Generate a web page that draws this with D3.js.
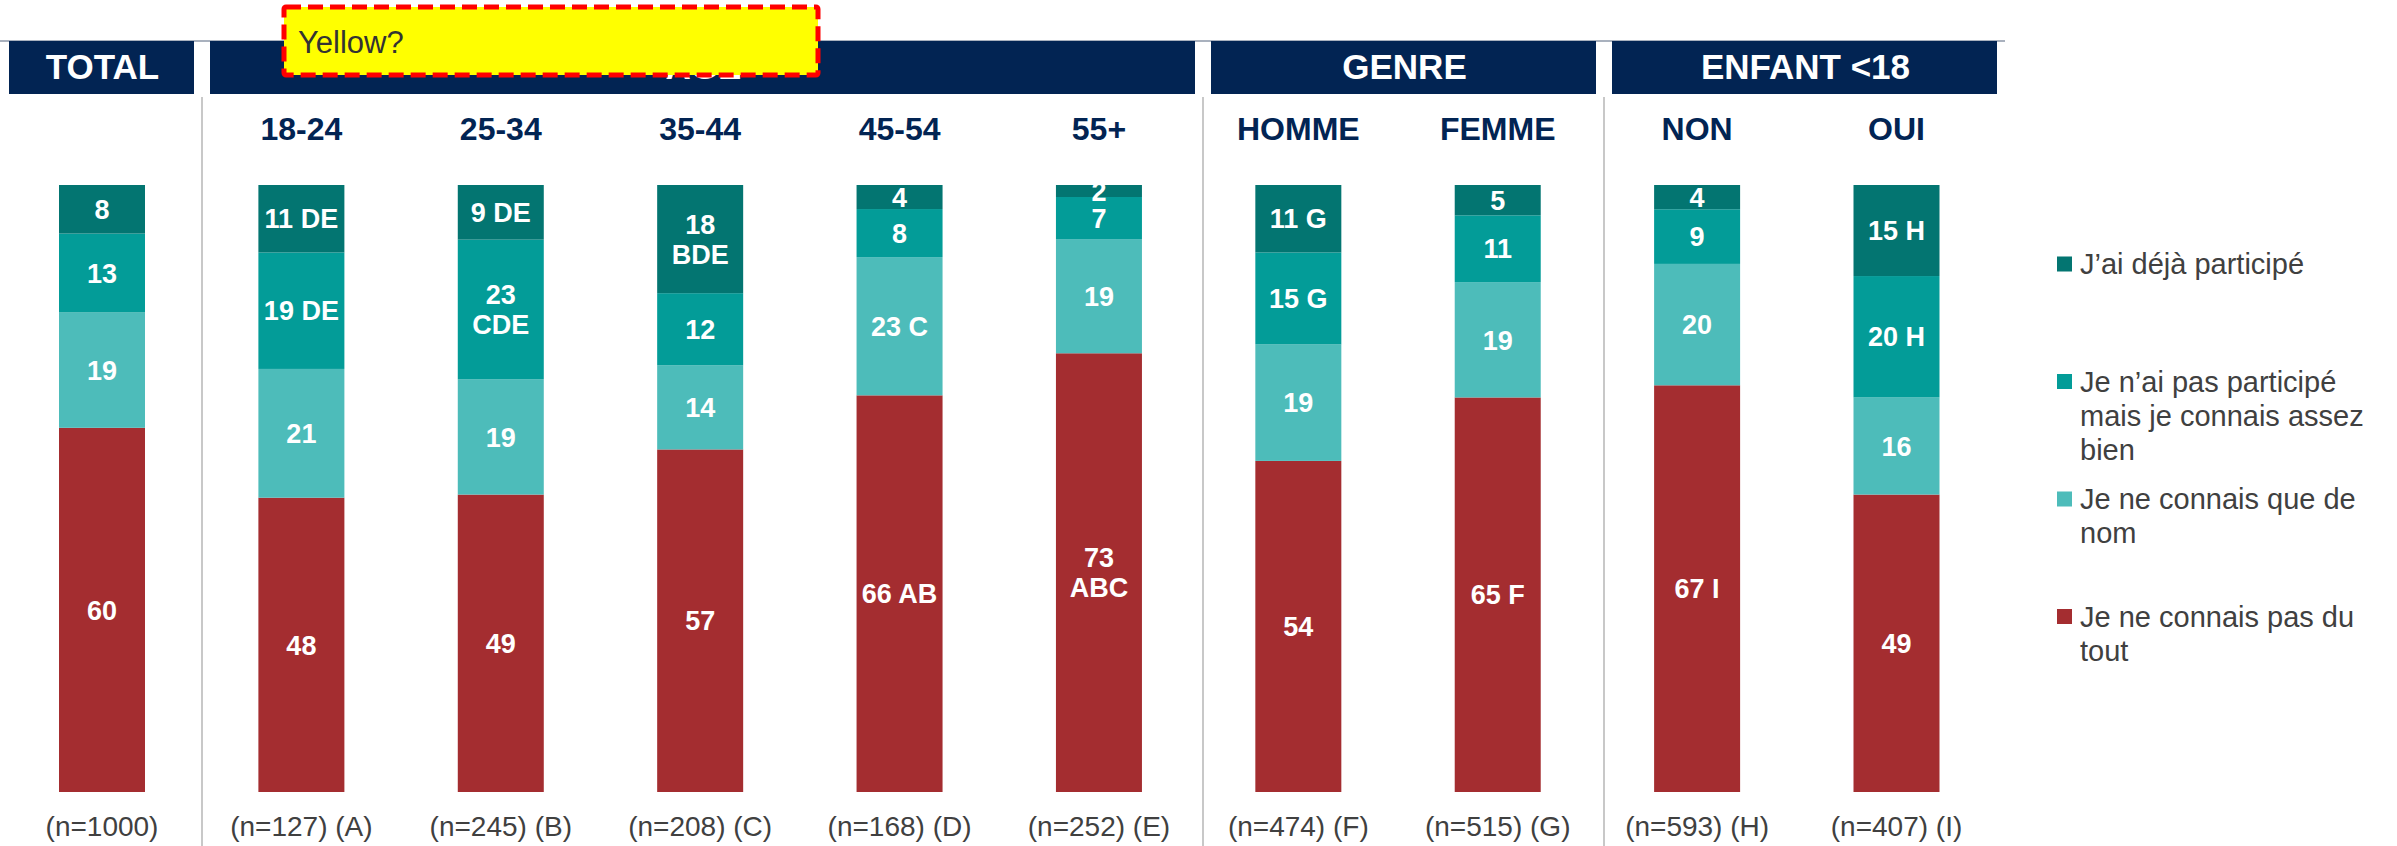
<!DOCTYPE html>
<html>
<head>
<meta charset="utf-8">
<script src="https://cdn.jsdelivr.net/npm/d3@7"></script>
<style>
  body { margin: 0; background: #fff; }
  svg { display: block; font-family: "Liberation Sans", Arial, sans-serif; }
</style>
</head>
<body>
<svg id="chart"></svg>
<script>
// categories + sample sizes
const categories = ["TOTAL", "18-24", "25-34", "35-44", "45-54", "55+", "HOMME", "FEMME", "NON", "OUI"];
const nLabels = ["(n=1000)", "(n=127) (A)", "(n=245) (B)", "(n=208) (C)", "(n=168) (D)",
                 "(n=252) (E)", "(n=474) (F)", "(n=515) (G)", "(n=593) (H)", "(n=407) (I)"];

// series values (%), bottom to top
const pasDuTout    = [60, 48, 49, 57, 66, 73, 54, 65, 67, 49];
const queDeNom     = [19, 21, 19, 14, 23, 19, 19, 19, 20, 16];
const pasParticipe = [13, 19, 23, 12, 8, 7, 15, 11, 9, 20];
const dejaParticipe = [8, 11, 9, 18, 4, 2, 11, 5, 4, 15];

// significance letters
const sigPasDuTout    = ["", "", "", "", "AB", "ABC", "", "F", "I", ""];
const sigQueDeNom     = ["", "", "", "", "C", "", "", "", "", ""];
const sigPasParticipe = ["", "DE", "CDE", "", "", "", "G", "", "", "H"];
const sigDeja         = ["", "DE", "DE", "BDE", "", "", "G", "", "", "H"];

// group headers
const groupNames = ["TOTAL", "AGE", "GENRE", "ENFANT <18"];
const groupEdges = [1, 202, 1203, 1604, 2005];

// legend (top to bottom)
const legendKeys = ["deja", "pasParticipe", "queDeNom", "pasDuTout"];
const legendLabels = [
  ["J\u2019ai d\u00e9j\u00e0 particip\u00e9"],
  ["Je n\u2019ai pas particip\u00e9", "mais je connais assez", "bien"],
  ["Je ne connais que de", "nom"],
  ["Je ne connais pas du", "tout"]
];

const W = 2397, H = 846;
const navy = "#022453";
const color = {
  pasDuTout: "#A42D30",
  queDeNom: "#4DBCBA",
  pasParticipe: "#039C98",
  deja: "#037571"
};

const svg = d3.select("#chart").attr("width", W).attr("height", H);

const keys = ["pasDuTout", "queDeNom", "pasParticipe", "deja"];
const values = {pasDuTout: pasDuTout, queDeNom: queDeNom, pasParticipe: pasParticipe, deja: dejaParticipe};
const sigs = {pasDuTout: sigPasDuTout, queDeNom: sigQueDeNom, pasParticipe: sigPasParticipe, deja: sigDeja};

const rows = categories.map(function(c, i) {
  const r = {cat: c, i: i};
  keys.forEach(function(k) { r[k] = values[k][i]; });
  return r;
});

const stacked = d3.stack().keys(keys).offset(d3.stackOffsetExpand)(rows);

const x = d3.scalePoint().domain(categories).range([102, 1896.5]);
const bw = 86;
const y = d3.scaleLinear().domain([0, 1]).range([792, 185]);

// top rule
svg.append("line")
  .attr("x1", 0).attr("x2", groupEdges[groupEdges.length - 1])
  .attr("y1", 41).attr("y2", 41)
  .attr("stroke", "#8C97A8").attr("stroke-width", 1.5);

// separators
svg.selectAll(".sep").data(groupEdges.slice(1, -1)).enter().append("line")
  .attr("class", "sep")
  .attr("x1", d => d).attr("x2", d => d)
  .attr("y1", 97).attr("y2", H)
  .attr("stroke", "#C8C8C8").attr("stroke-width", 2);

// header boxes
const heads = svg.selectAll(".head").data(groupNames).enter().append("g").attr("class", "head");
heads.append("rect")
  .attr("x", (d, i) => groupEdges[i] + 8)
  .attr("width", (d, i) => groupEdges[i + 1] - groupEdges[i] - 16)
  .attr("y", 41).attr("height", 53)
  .attr("fill", navy);
heads.append("text")
  .attr("x", (d, i) => (groupEdges[i] + groupEdges[i + 1]) / 2 + 1)
  .attr("y", 79)
  .attr("text-anchor", "middle")
  .attr("fill", "#fff")
  .style("font-size", "35px").style("font-weight", "bold")
  .text(d => d);

// sub headers
svg.selectAll(".sub").data(categories.slice(1)).enter().append("text")
  .attr("x", d => x(d))
  .attr("y", 140)
  .attr("text-anchor", "middle")
  .attr("fill", navy)
  .style("font-size", "32px").style("font-weight", "bold")
  .text(d => d);

// bars
const layer = svg.selectAll(".layer").data(stacked).enter().append("g")
  .attr("class", "layer")
  .attr("fill", d => color[d.key]);

layer.selectAll("rect").data(d => d).enter().append("rect")
  .attr("x", d => x(d.data.cat) - bw / 2)
  .attr("width", bw)
  .attr("y", d => y(d[1]))
  .attr("height", d => y(d[0]) - y(d[1]));

// value labels
stacked.forEach(function(s) {
  s.forEach(function(d) {
    const i = d.data.i;
    const v = values[s.key][i];
    const sig = sigs[s.key][i];
    const cx = x(d.data.cat);
    const cy = (y(d[0]) + y(d[1])) / 2;
    const t = svg.append("text")
      .attr("x", cx)
      .attr("text-anchor", "middle")
      .attr("fill", "#fff")
      .style("font-size", "27px").style("font-weight", "bold");
    t.text(sig ? v + " " + sig : v).attr("y", cy).attr("dy", "0.36em");
    if (sig && t.node().getComputedTextLength() > bw - 6) {
      t.text(null);
      t.append("tspan").attr("x", cx).attr("y", cy - 15).attr("dy", "0.36em").text(v);
      t.append("tspan").attr("x", cx).attr("y", cy + 15).attr("dy", "0.36em").text(sig);
    }
  });
});

// n labels
svg.selectAll(".nlab").data(nLabels).enter().append("text")
  .attr("x", (d, i) => x(categories[i]))
  .attr("y", 836)
  .attr("text-anchor", "middle")
  .attr("fill", "#404040")
  .style("font-size", "28px")
  .text(d => d);

// legend
const leg = svg.selectAll(".leg").data(legendKeys).enter().append("g")
  .attr("class", "leg")
  .attr("transform", (d, i) => "translate(2057," + (264 + i * 117.5) + ")");
leg.append("rect")
  .attr("x", 0).attr("y", -7.5).attr("width", 15).attr("height", 15)
  .attr("fill", d => color[d]);
leg.append("text")
  .attr("fill", "#404040")
  .style("font-size", "29px")
  .each(function(d, i) {
    const t = d3.select(this);
    legendLabels[i].forEach(function(line, j) {
      t.append("tspan").attr("x", 23).attr("y", j * 34).attr("dy", "0.36em").text(line);
    });
  });

// yellow note over the AGE header
svg.append("rect")
  .attr("x", 284).attr("y", 7).attr("width", 534).attr("height", 68)
  .attr("rx", 2)
  .attr("fill", "#FFFF00")
  .attr("stroke", "#FF0000").attr("stroke-width", 5)
  .attr("stroke-dasharray", "15 7");
svg.append("text")
  .attr("x", 298).attr("y", 53)
  .attr("fill", "#333")
  .style("font-size", "31px")
  .text("Yellow?");
</script>
</body>
</html>
